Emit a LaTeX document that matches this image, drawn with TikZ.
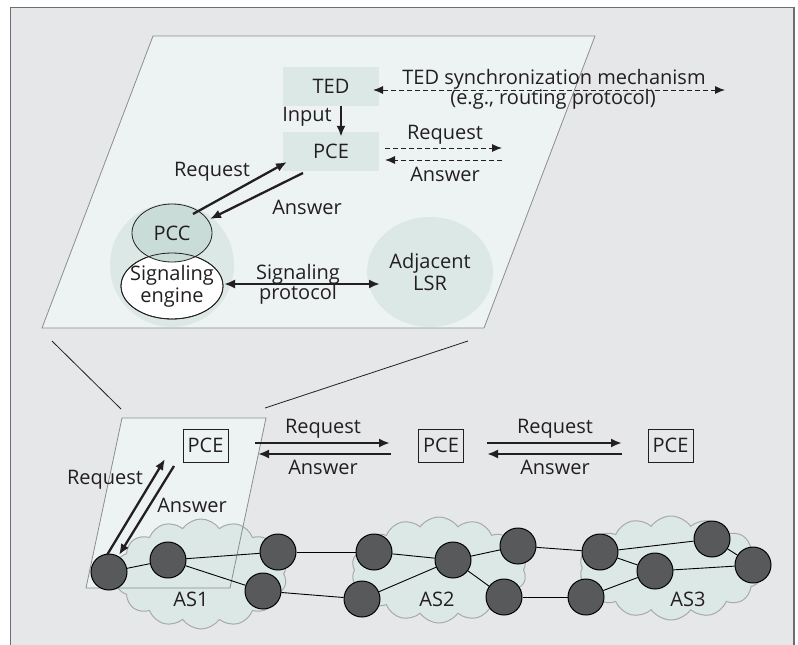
\documentclass[tikz,border=0pt]{standalone}
\usepackage{fontspec}
\setmainfont{Open Sans}
\usetikzlibrary{arrows.meta,shapes.geometric,shapes.symbols}
\definecolor{bgc}{HTML}{E6E7E9}
\definecolor{framec}{HTML}{6D6E71}
\definecolor{planec}{HTML}{EDF3F3}
\definecolor{planeedge}{HTML}{8C8D8F}
\definecolor{boxc}{HTML}{DCE8E5}
\definecolor{pccc}{HTML}{C9DCD7}
\definecolor{routerc}{HTML}{58595B}
\definecolor{inkc}{HTML}{231F20}
\definecolor{cloudedge}{HTML}{A7A9AC}
\tikzset{
  lbl/.style={inner sep=0pt, text=inkc, align=center},
  solidarrow/.style={draw=inkc, line width=2.3pt, -{Latex[length=11pt,width=9pt]}},
  dasharrow/.style={draw=inkc, line width=1pt, dash pattern=on 5pt off 3pt, -{Latex[length=10pt,width=8pt]}},
  router/.style={circle, draw=black, line width=1pt, fill=routerc, minimum size=36pt, inner sep=0pt},
  pcebox/.style={draw=inkc, line width=1pt, minimum width=45pt, minimum height=33pt, inner sep=0pt, text=inkc},
  greybox/.style={fill=boxc, minimum width=96pt, minimum height=39pt, inner sep=0pt, text=inkc},
  ascloud/.style={cloud, cloud puffs=14, cloud puff arc=110, fill=boxc, draw=cloudedge, line width=1pt, inner sep=0pt},
  link/.style={draw=black, line width=0.9pt},
  zoomline/.style={draw=inkc, line width=0.8pt}
}
\begin{document}
\begin{tikzpicture}[x=1pt,y=-1pt,font=\fontsize{20}{22}\selectfont]
\useasboundingbox (0,0) rectangle (798,645);
% frame
\fill[bgc] (10.5,7.5) rectangle (794,645);
\draw[framec, line width=1.5pt] (10.5,645) -- (10.5,7.5) -- (794,7.5) -- (794,645);

% ===== top plane =====
\path[fill=planec, draw=planeedge, line width=0.8pt] (153,36) -- (595,36) -- (484,328) -- (42,328) -- cycle;
\node[circle, fill=boxc, minimum size=124pt, inner sep=0pt] (pccbg) at (172,265) {};
\node[ellipse, fill=boxc, minimum width=126pt, minimum height=110pt, inner sep=0pt, align=center, text=inkc] (lsr) at (430,272) {Adjacent\\LSR};

\node[ellipse, draw=inkc, fill=white, line width=0.8pt, minimum width=102pt, minimum height=66pt, inner sep=0pt] (sig) at (172,286) {};
\node[ellipse, draw=inkc, fill=pccc, line width=0.8pt, minimum width=80pt, minimum height=58pt, inner sep=0pt, text=inkc] (pcc) at (172,233) {PCC};
\draw[inkc, line width=0.8pt] (172,286) ellipse[x radius=51pt, y radius=33pt];
\node[lbl] (sigtxt) at (172,286) {Signaling\\engine};

\node[greybox] (ted) at (331,86.5) {TED};
\node[greybox] (pcet) at (331,151.5) {PCE};

\draw[solidarrow] ([xshift=10pt]ted.south) -- ([xshift=10pt,yshift=-5pt]pcet.north);
\node[lbl] (inputlbl) at (307,117) {Input};

\coordinate (syncL) at (373,90);
\coordinate (syncR) at (725,90);
\draw[dasharrow, {Latex[length=10pt,width=8pt]}-{Latex[length=10pt,width=8pt]}] (syncL) -- (syncR);
\node[lbl] (sync1) at (554,79) {TED synchronization mechanism};
\node[lbl] (sync2) at (553,99) {(e.g., routing protocol)};

\coordinate (treqA) at (385,148);
\coordinate (treqB) at (502,148);
\coordinate (tansA) at (502,160);
\coordinate (tansB) at (385,160);
\draw[dasharrow] (treqA) -- (treqB);
\draw[dasharrow] (tansA) -- (tansB);
\node[lbl] (treqlbl) at (445,135) {Request};
\node[lbl] (tanslbl) at (445,174) {Answer};

\coordinate (preqA) at (193,214);
\coordinate (preqB) at (287,162);
\coordinate (pansA) at (303,173);
\coordinate (pansB) at (210,219);
\draw[solidarrow] (preqA) -- (preqB);
\draw[solidarrow] (pansA) -- (pansB);
\node[lbl] (preqlbl) at (212,172) {Request};
\node[lbl] (panslbl) at (307,207) {Answer};

\coordinate (sigA) at (224,284);
\coordinate (sigB) at (380,284);
\draw[solidarrow, {Latex[length=11pt,width=9pt]}-{Latex[length=11pt,width=9pt]}] (sigA) -- (sigB);
\node[lbl] (sp1) at (298,274) {Signaling};
\node[lbl] (sp2) at (298,294) {protocol};

% zoom lines
\coordinate (z1a) at (52,341);
\coordinate (z1b) at (121,409);
\coordinate (z2a) at (468,341);
\coordinate (z2b) at (265,408);
\draw[zoomline] (z1a) -- (z1b);
\draw[zoomline] (z2a) -- (z2b);

% ===== bottom =====
\fill[planec] (122,418) -- (266,418) -- (230,588) -- (86,588) -- cycle;
\node[ascloud, minimum width=172pt, minimum height=110pt] (as1c) at (201,574) {};
\node[ascloud, minimum width=175pt, minimum height=106pt] (as2c) at (439,570) {};
\node[ascloud, minimum width=183pt, minimum height=104pt] (as3c) at (671,568) {};
\draw[planeedge, line width=0.8pt] (122,418) -- (266,418) -- (230,588) -- (86,588) -- cycle;

\node[lbl] (as1) at (191,599) {AS1};
\node[lbl] (as2) at (437,599) {AS2};
\node[lbl] (as3) at (688,599) {AS3};

\node[router] (n1) at (109,572) {};
\node[router] (n2) at (168,560) {};
\node[router] (n3) at (278,552) {};
\node[router] (n4) at (263,591) {};
\node[router] (n5) at (374,552) {};
\node[router] (n6) at (362,599) {};
\node[router] (n7) at (453,560) {};
\node[router] (n8) at (518,546) {};
\node[router] (n9) at (504,597) {};
\node[router] (n10) at (600,552) {};
\node[router] (n11) at (586,597) {};
\node[router] (n12) at (655,571) {};
\node[router] (n13) at (712,539) {};
\node[router] (n14) at (753,565) {};
\draw[link] (n1) -- (n2);
\draw[link] (n2) -- (n3);
\draw[link] (n2) -- (n4);
\draw[link] (n3) -- (n5);
\draw[link] (n4) -- (n6);
\draw[link] (n5) -- (n7);
\draw[link] (n6) -- (n7);
\draw[link] (n7) -- (n8);
\draw[link] (n7) -- (n9);
\draw[link] (n8) -- (n10);
\draw[link] (n10) -- (n13);
\draw[link] (n9) -- (n11);
\draw[link] (n11) -- (n12);
\draw[link] (n10) -- (n12);
\draw[link] (n12) -- (n14);
\draw[link] (n13) -- (n14);

\node[pcebox] (pce1) at (205.5,445.5) {PCE};
\node[pcebox] (pce2) at (441,445.5) {PCE};
\node[pcebox] (pce3) at (670.5,445.5) {PCE};

\coordinate (r1a) at (255,443);
\coordinate (r1b) at (390,443);
\coordinate (a1a) at (391,454);
\coordinate (a1b) at (258,454);
\draw[solidarrow] (r1a) -- (r1b);
\draw[solidarrow] (a1a) -- (a1b);
\node[lbl] (r1lbl) at (323,429) {Request};
\node[lbl] (a1lbl) at (323,467) {Answer};

\coordinate (r2a) at (487,443);
\coordinate (r2b) at (622,443);
\coordinate (a2a) at (622,454);
\coordinate (a2b) at (487,454);
\draw[solidarrow] (r2a) -- (r2b);
\draw[solidarrow] (a2a) -- (a2b);
\node[lbl] (r2lbl) at (555,429) {Request};
\node[lbl] (a2lbl) at (555,467) {Answer};

\coordinate (sreqA) at (107,555);
\coordinate (sreqB) at (165,459);
\coordinate (sansA) at (174,466);
\coordinate (sansB) at (119,555);
\draw[solidarrow] (sreqA) -- (sreqB);
\draw[solidarrow] (sansA) -- (sansB);
\node[lbl] (sreqlbl) at (105,480) {Request};
\node[lbl] (sanslbl) at (192,505) {Answer};
\end{tikzpicture}
\end{document}
